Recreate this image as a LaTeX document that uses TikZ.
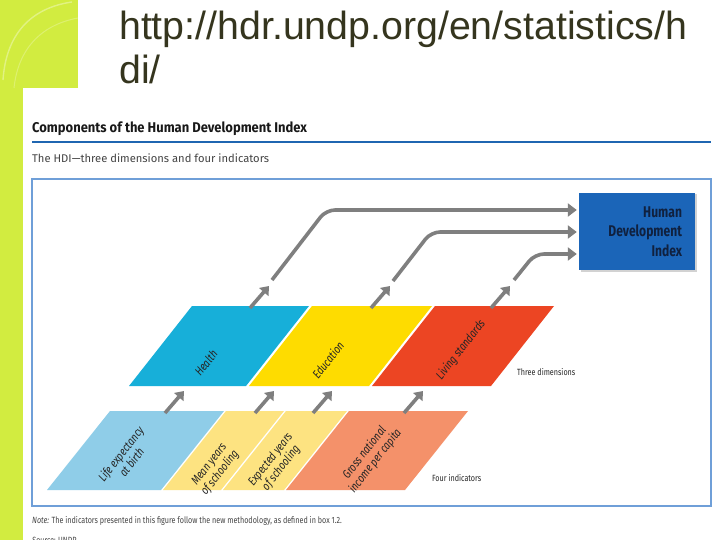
\documentclass[tikz,border=0pt]{standalone}
\usepackage{fontspec}
\setmainfont{Liberation Sans}
\newfontfamily\urlfont{Liberation Sans}
\newfontfamily\titlefont[FakeStretch=0.92]{Fira Sans}
\newfontfamily\subfont{Fira Sans}
\newfontfamily\hdifont[FakeStretch=0.78]{Fira Sans}
\newfontfamily\figfont[FakeStretch=0.80]{Fira Sans}
\usetikzlibrary{arrows.meta,shadows}
\definecolor{limebg}{HTML}{D2EC40}
\definecolor{urlcol}{HTML}{35351E}
\definecolor{lineblue}{HTML}{1F66B1}
\definecolor{frameblue}{HTML}{6F9FD8}
\definecolor{hdiblue}{HTML}{1B65B8}
\definecolor{hditext}{HTML}{10213F}
\definecolor{healthc}{HTML}{17AFD9}
\definecolor{educc}{HTML}{FEDC00}
\definecolor{livingc}{HTML}{EC4523}
\definecolor{lifec}{HTML}{8FCDE8}
\definecolor{schoolc}{HTML}{FDE381}
\definecolor{grossc}{HTML}{F4916A}
\definecolor{arrowgray}{HTML}{7F7F7F}
\definecolor{textgray}{HTML}{444444}
\tikzset{
  bigarrow/.style={draw=arrowgray, line width=3.6pt, rounded corners=9pt,
    -{Triangle[length=9pt,width=13pt]}},
  smallarrow/.style={draw=arrowgray, line width=3.6pt,
    -{Triangle[length=8pt,width=12pt]}},
  dimlabel/.style={font=\figfont\itshape\fontsize{12}{13.5}\selectfont, text=black!85, rotate=52, align=center, inner sep=0pt},
  indlabel/.style={font=\figfont\itshape\fontsize{12}{13.5}\selectfont, text=black!85, rotate=52, align=center, inner sep=0pt},
  sidelabel/.style={font=\figfont\fontsize{9}{10}\selectfont, text=black!85, anchor=west, inner sep=0pt},
  hdibox/.style={fill=hdiblue, minimum width=116pt, minimum height=77pt, text width=90pt,
    inner xsep=13pt, align=right, text=hditext,
    font=\hdifont\bfseries\fontsize{15.5}{19.5}\selectfont,
    drop shadow={shadow xshift=1.5pt, shadow yshift=-1.5pt, opacity=0.35}},
}
\begin{document}
\begin{tikzpicture}[x=1pt,y=-1pt]
\useasboundingbox (0,0) rectangle (720,540);
\fill[white] (0,0) rectangle (720,540);
% slide decoration
\fill[limebg] (0,0) rectangle (78,88);
\fill[limebg] (0,88) rectangle (23,540);
\draw[white, opacity=0.35, line width=1.4pt] (3,80) .. controls (6,35) and (30,8) .. (72,2);
\draw[white, opacity=0.25, line width=1pt] (14,88) .. controls (18,50) and (40,25) .. (78,18);
% url title
\node[anchor=base west, font=\urlfont\fontsize{39.3}{44}\selectfont, text=urlcol, inner sep=0pt] (url1) at (119,40) {http://hdr.undp.org/en/statistics/h};
\node[anchor=base west, font=\urlfont\fontsize{39.3}{44}\selectfont, text=urlcol, inner sep=0pt] (url2) at (119,84) {di/};
% figure header
\node[anchor=base west, font=\titlefont\bfseries\fontsize{14.1}{15}\selectfont, text=black!90, inner sep=0pt] (ftitle) at (32,133) {Components of the Human Development Index};
\draw[lineblue, line width=2.8pt] (32,142) -- (711,142);
\node[anchor=base west, font=\subfont\fontsize{11.2}{13}\selectfont, text=textgray, inner sep=0pt] (fsub) at (32,163) {The HDI—three dimensions and four indicators};
\draw[frameblue, line width=1.3pt] (32,179) rectangle (711,506);
% notes
\node[anchor=base west, font=\figfont\fontsize{9}{10}\selectfont, text=textgray, inner sep=0pt] (note) at (32,523) {\itshape Note:\upshape{} The indicators presented in this figure follow the new methodology, as defined in box 1.2.};
\node[anchor=base west, font=\figfont\fontsize{9}{10}\selectfont, text=textgray, inner sep=0pt] (source) at (32,543) {\itshape Source:\upshape{} UNDP};
% dimensions
\fill[healthc] (192,306) -- (309,306) -- (246,386) -- (129,386) -- cycle;
\fill[educc] (312,306) -- (432,306) -- (369,386) -- (249,386) -- cycle;
\fill[livingc] (435,306) -- (554,306) -- (491,386) -- (372,386) -- cycle;
\node[dimlabel] (health) at (206,363) {Health};
\node[dimlabel] (educ) at (328,360) {Education};
\node[dimlabel] (living) at (461,350) {Living standards};
\node[sidelabel] (threed) at (517,372) {Three dimensions};
% indicators
\fill[lifec] (110,411) -- (224,411) -- (161,490) -- (47,490) -- cycle;
\fill[schoolc] (226,411) -- (284,411) -- (221,490) -- (163,490) -- cycle;
\fill[schoolc] (286,411) -- (347,411) -- (284,490) -- (223,490) -- cycle;
\fill[grossc] (349,411) -- (468,411) -- (405,490) -- (286,490) -- cycle;
\node[indlabel] (life) at (126,458) {Life expectancy\\at birth};
\node[indlabel] (mean) at (215,469) {Mean years\\of schooling};
\node[indlabel] (expect) at (276,464) {Expected years\\of schooling};
\node[indlabel] (gross) at (370,457) {Gross national\\income per capita};
\node[sidelabel] (fouri) at (432,478) {Four indicators};
% HDI box
\node[hdibox] (hdi) at (637,231.5) {Human\\Development\\Index};
% small arrows indicators -> dimensions
\coordinate (i1) at (165,413); \coordinate (d1b) at (184,391);
\coordinate (i2) at (255,413); \coordinate (d2b) at (274,391);
\coordinate (i3) at (313,413); \coordinate (d3b) at (332,391);
\coordinate (i4) at (404,413); \coordinate (d4b) at (423,391);
\draw[smallarrow] (i1) -- (d1b);
\draw[smallarrow] (i2) -- (d2b);
\draw[smallarrow] (i3) -- (d3b);
\draw[smallarrow] (i4) -- (d4b);
% small arrows dimensions -> up
\coordinate (h1) at (250,308); \coordinate (h1t) at (269,286);
\coordinate (h2) at (371,308); \coordinate (h2t) at (390,286);
\coordinate (h3) at (491,308); \coordinate (h3t) at (510,286);
\draw[smallarrow] (h1) -- (h1t);
\draw[smallarrow] (h2) -- (h2t);
\draw[smallarrow] (h3) -- (h3t);
% long arrows to HDI
\coordinate (a1) at (272,280); \coordinate (b1) at (326,210);
\coordinate (a2) at (393,281); \coordinate (b2) at (431,232);
\coordinate (a3) at (514,280); \coordinate (b3) at (535,254);
\draw[bigarrow, shorten >=2pt] (a1) -- (b1) -- (hdi.west |- b1);
\draw[bigarrow, shorten >=2pt] (a2) -- (b2) -- (hdi.west |- b2);
\draw[bigarrow, shorten >=2pt] (a3) -- (b3) -- (hdi.west |- b3);
\end{tikzpicture}
\end{document}
